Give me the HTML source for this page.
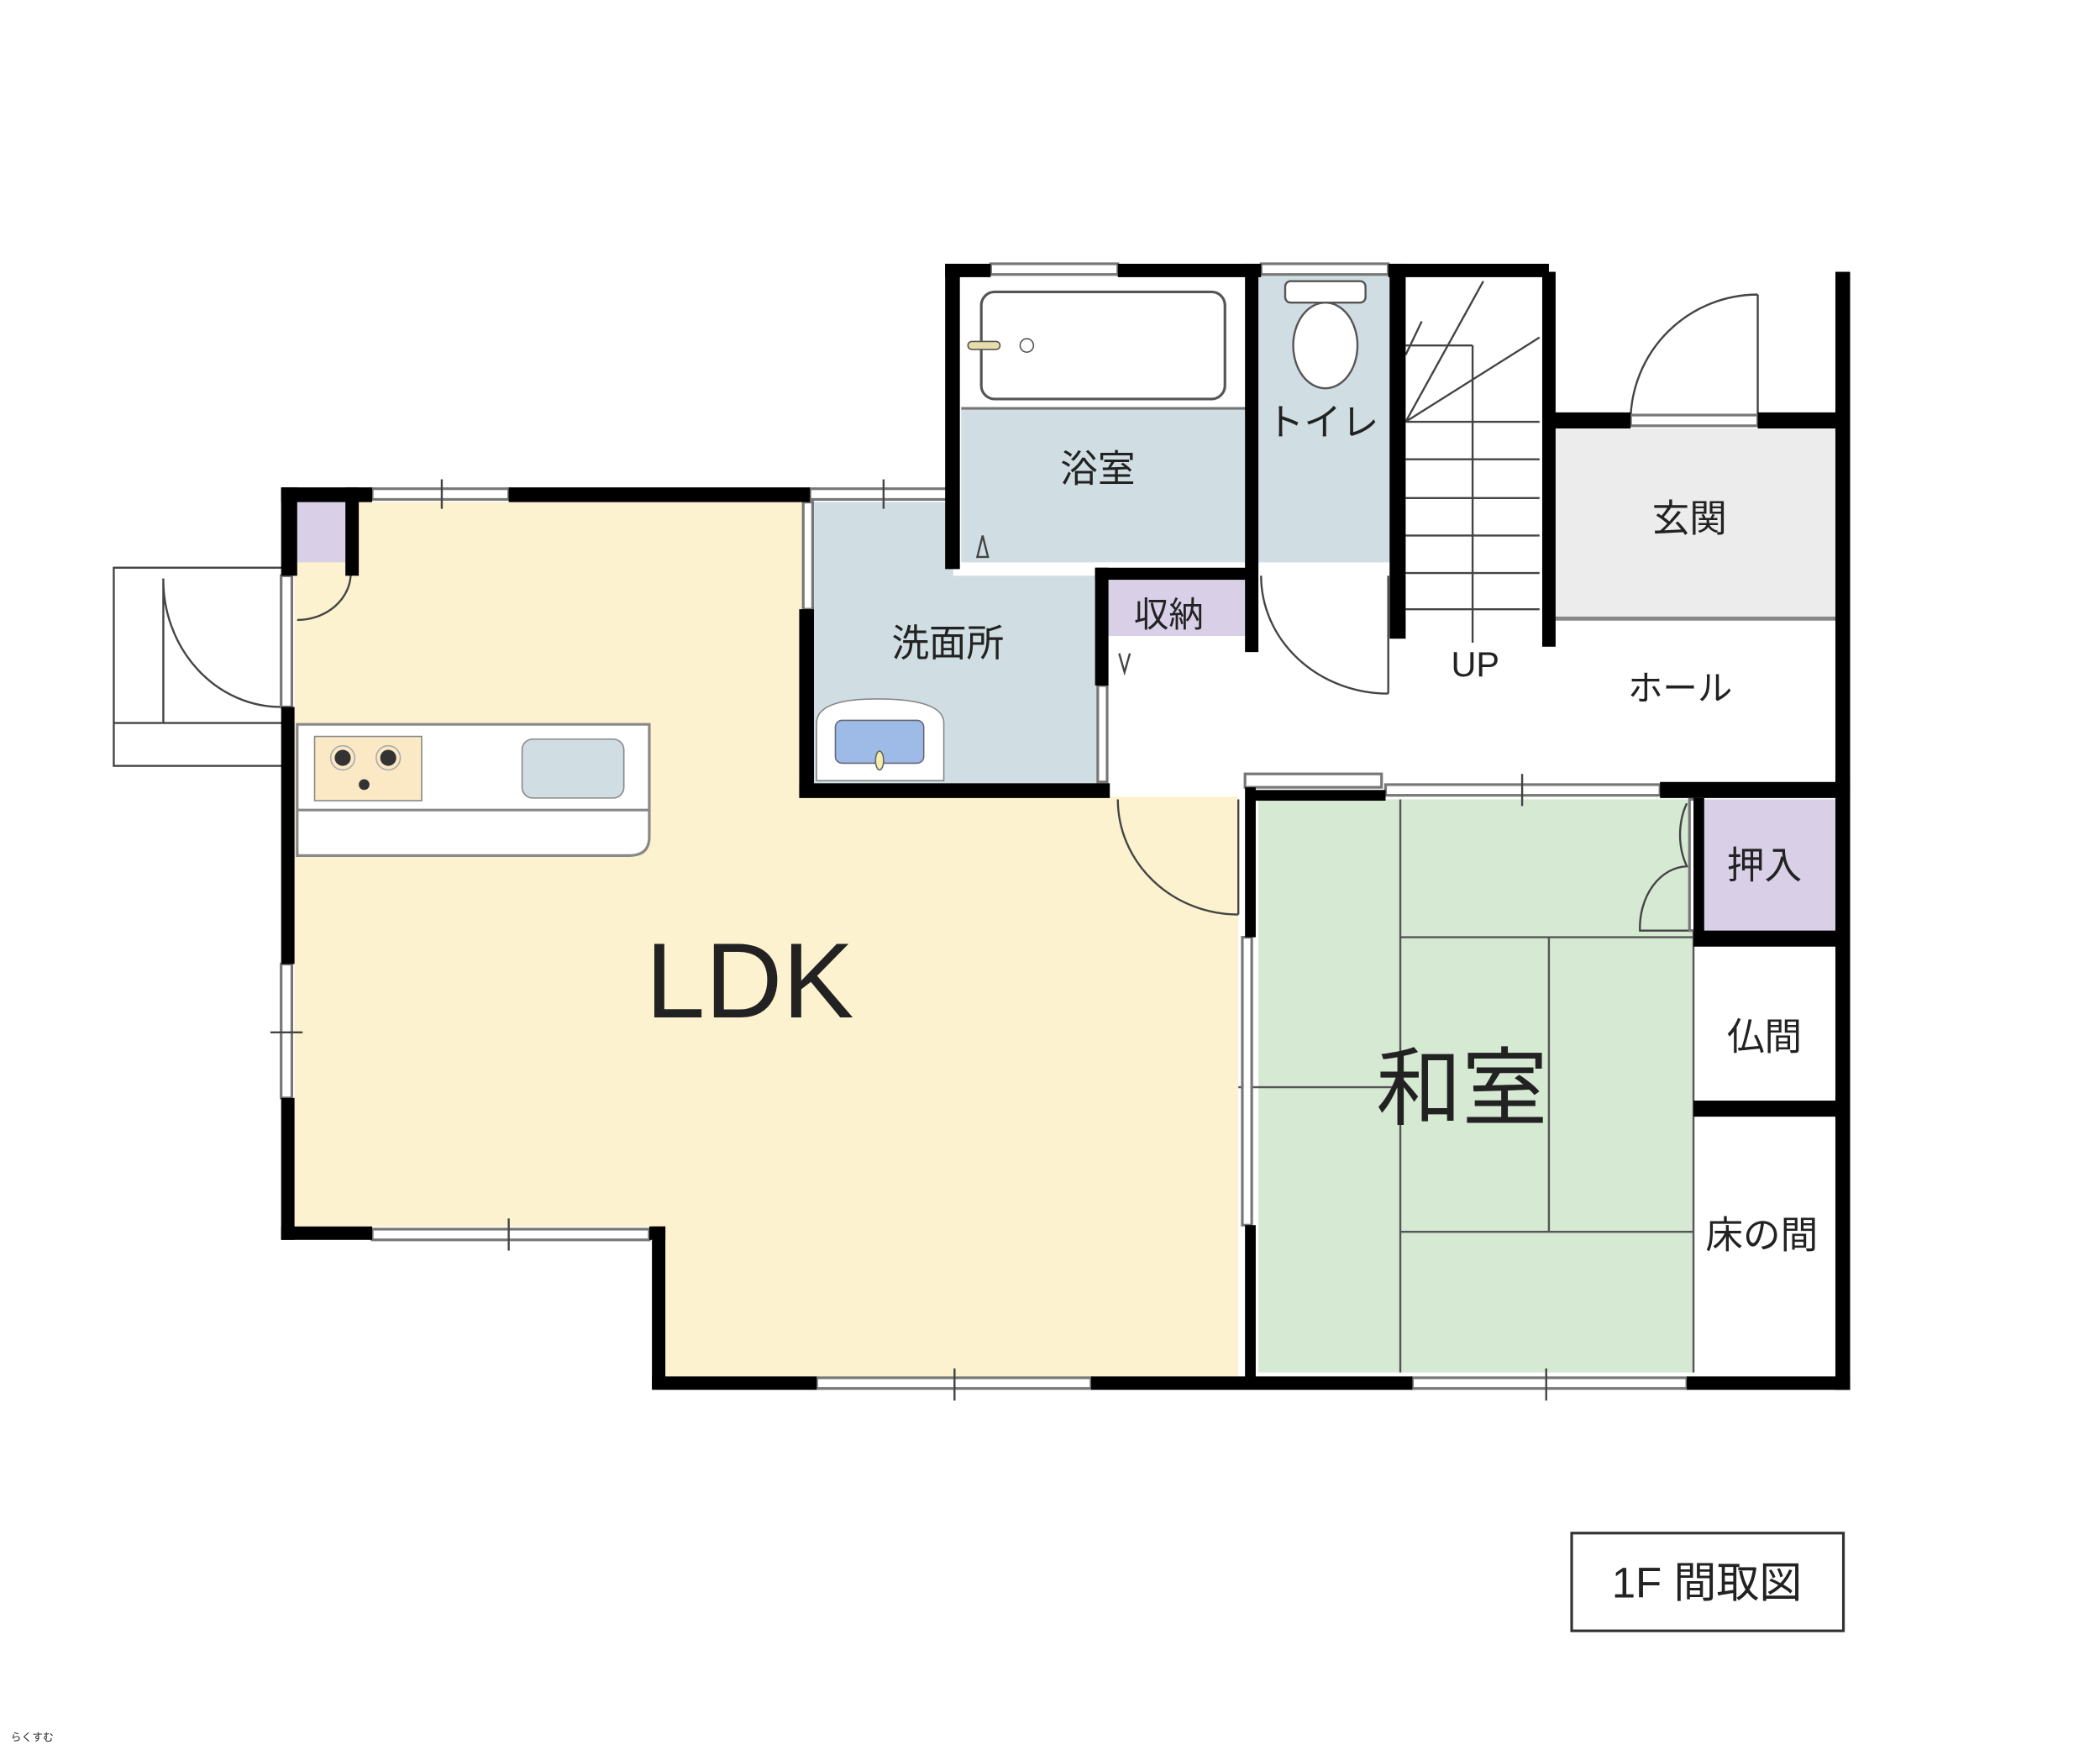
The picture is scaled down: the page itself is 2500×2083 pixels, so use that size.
<!DOCTYPE html>
<html><head><meta charset="utf-8"><style>
html,body{margin:0;padding:0;background:#fff}
svg{display:block}
text{font-family:"Liberation Sans","Noto Sans CJK JP",sans-serif;fill:#222}
</style></head><body>
<svg width="2500" height="2083" viewBox="0 0 1568 1307" preserveAspectRatio="xMinYMin meet" xmlns="http://www.w3.org/2000/svg">
<rect width="1568" height="1307" fill="#fff"/>
<!-- fills -->
<polygon points="220,375 605,375 605,595 925,595 925,1028 497,1028 497,916 220,916" fill="#fcf2cf"/>
<polygon points="608,375 712,375 712,430 820,430 820,585 608,585" fill="#d0dde2"/>
<rect x="718" y="305" width="214" height="115" fill="#d0dde2"/>
<rect x="940" y="205" width="100" height="215" fill="#d0dde2"/>
<rect x="940" y="597" width="325" height="428" fill="#d5e9d3"/>
<rect x="1273" y="597" width="99" height="98" fill="#d9d0e8"/>
<rect x="828" y="432" width="102" height="43" fill="#d9d0e8"/>
<rect x="220" y="375" width="42" height="45" fill="#d9d0e8"/>
<rect x="1162" y="320" width="210" height="142" fill="#ececec"/>
<line x1="1162" y1="462" x2="1372" y2="462" stroke="#888" stroke-width="3"/>
<!-- tatami -->
<g stroke="#555" stroke-width="1.5" fill="none">
<line x1="1046" y1="597" x2="1046" y2="1025"/>
<line x1="1046" y1="700" x2="1265" y2="700"/>
<line x1="1157" y1="700" x2="1157" y2="920"/>
<line x1="1046" y1="920" x2="1265" y2="920"/>
<line x1="925" y1="812" x2="1046" y2="812"/>
<line x1="1265" y1="597" x2="1265" y2="1025"/>
</g>
<!-- bathtub -->
<rect x="733" y="218" width="182" height="80" rx="10" fill="#fff" stroke="#555" stroke-width="2"/>
<rect x="723" y="255" width="24" height="6" rx="3" fill="#e8dcaa" stroke="#555"/>
<circle cx="767" cy="258" r="5" fill="#fff" stroke="#555"/>
<line x1="718" y1="305" x2="932" y2="305" stroke="#777" stroke-width="2"/>
<!-- toilet -->
<rect x="960" y="210" width="60" height="16" rx="4" fill="#fff" stroke="#555" stroke-width="1.5"/>
<ellipse cx="990" cy="258" rx="24" ry="32" fill="#fff" stroke="#555" stroke-width="1.5"/>
<!-- kitchen -->
<path d="M222,541 L485,541 L485,625 Q485,639 470,639 L222,639 Z" fill="#fff" stroke="#888" stroke-width="2"/>
<line x1="222" y1="605" x2="485" y2="605" stroke="#888" stroke-width="2"/>
<rect x="235" y="550" width="80" height="48" fill="#fbe9c5" stroke="#888"/>
<circle cx="256" cy="566" r="9" fill="none" stroke="#aaa"/><circle cx="290" cy="566" r="9" fill="none" stroke="#aaa"/>
<circle cx="256" cy="566" r="6" fill="#333"/><circle cx="290" cy="566" r="6" fill="#333"/><circle cx="272" cy="586" r="4" fill="#333"/>
<rect x="390" y="552" width="76" height="44" rx="8" fill="#d0dde2" stroke="#888"/>
<!-- washbasin -->
<path d="M610,583 L610,540 Q610,522 655,522 Q705,522 705,540 L705,583 Z" fill="#fff" stroke="#888"/>
<rect x="624" y="538" width="66" height="32" rx="5" fill="#9dbbe6" stroke="#667"/>
<ellipse cx="657" cy="568" rx="3" ry="7" fill="#f5ecb0" stroke="#666"/>
<!-- stairs -->
<g stroke="#444" stroke-width="1.5" fill="none">
<line x1="1050" y1="315" x2="1150" y2="315"/>
<line x1="1050" y1="343" x2="1150" y2="343"/>
<line x1="1050" y1="372" x2="1150" y2="372"/>
<line x1="1050" y1="400" x2="1150" y2="400"/>
<line x1="1050" y1="428" x2="1150" y2="428"/>
<line x1="1050" y1="455" x2="1150" y2="455"/>
<line x1="1100" y1="258" x2="1100" y2="480"/>
<line x1="1050" y1="258" x2="1100" y2="258"/>
<line x1="1050" y1="315" x2="1108" y2="210"/>
<line x1="1050" y1="315" x2="1150" y2="252"/>
<line x1="1050" y1="265" x2="1062" y2="240"/>
</g>
<!-- doors -->
<g stroke="#444" stroke-width="1.5" fill="none">
<path d="M1313,220 L1313,314 M1313,220 A95,95 0 0 0 1218,314"/>
<path d="M1037,430 L1037,518 M942,430 A95,88 0 0 0 1037,518"/>
<path d="M925,597 L925,683 M835,597 A90,86 0 0 0 925,683"/>
<path d="M262,428 A40,35 0 0 1 222,463"/>
<path d="M122,432 L122,540 M122,432 A88,95 0 0 0 210,528"/>
<path d="M1260,600 A36,46 0 0 0 1260,647 A36,46 0 0 0 1225,695 L1262,695"/>
<rect x="85" y="424" width="130" height="148"/>
<line x1="85" y1="540" x2="215" y2="540"/>
<path d="M730,416 L734,400 L738,416 Z"/>
<path d="M836,488 L840,502 L844,488"/>
</g>
<!-- windows -->
<g fill="#fff" stroke="#777" stroke-width="2">
<rect x="278" y="365" width="102" height="8"/>
<rect x="605" y="365" width="107" height="8"/>
<rect x="740" y="197" width="95" height="8"/>
<rect x="942" y="197" width="95" height="8"/>
<rect x="278" y="918" width="207" height="8"/>
<rect x="610" y="1029" width="205" height="8"/>
<rect x="1055" y="1029" width="205" height="8"/>
<rect x="1035" y="586" width="205" height="8"/>
<rect x="930" y="578" width="102" height="10"/>
<rect x="210" y="720" width="8" height="100"/>
<rect x="928" y="700" width="7" height="215"/>
<rect x="600" y="375" width="7" height="80"/>
<rect x="820" y="512" width="7" height="72"/>
<rect x="210" y="430" width="8" height="98"/>
<rect x="1218" y="310" width="95" height="8"/>
<rect x="1262" y="597" width="7" height="98"/>
</g>
<g stroke="#444" stroke-width="1.5">
<line x1="330" y1="358" x2="330" y2="380"/><line x1="660" y1="358" x2="660" y2="380"/>
<line x1="380" y1="910" x2="380" y2="934"/><line x1="713" y1="1022" x2="713" y2="1046"/>
<line x1="1155" y1="1022" x2="1155" y2="1046"/><line x1="1137" y1="578" x2="1137" y2="602"/>
<line x1="202" y1="771" x2="226" y2="771"/>
</g>
<!-- walls -->
<g fill="#000">
<rect x="210" y="364" width="68" height="11"/>
<rect x="380" y="364" width="225" height="11"/>
<rect x="210" y="364" width="12" height="66"/>
<rect x="258" y="364" width="10" height="66"/>
<rect x="210" y="528" width="10" height="192"/>
<rect x="210" y="820" width="10" height="106"/>
<rect x="210" y="916" width="68" height="10"/>
<rect x="485" y="916" width="12" height="10"/>
<rect x="487" y="916" width="10" height="121"/>
<rect x="487" y="1028" width="123" height="10"/>
<rect x="815" y="1028" width="240" height="10"/>
<rect x="1260" y="1028" width="122" height="10"/>
<rect x="1371" y="203" width="11" height="835"/>
<rect x="706" y="197" width="34" height="10"/>
<rect x="835" y="197" width="107" height="10"/>
<rect x="1037" y="197" width="120" height="10"/>
<rect x="706" y="197" width="11" height="228"/>
<rect x="930" y="197" width="10" height="290"/>
<rect x="1038" y="197" width="12" height="280"/>
<rect x="1152" y="203" width="10" height="280"/>
<rect x="1155" y="308" width="63" height="12"/>
<rect x="1313" y="308" width="64" height="12"/>
<rect x="818" y="424" width="120" height="9"/>
<rect x="818" y="424" width="10" height="88"/>
<rect x="597" y="455" width="11" height="140"/>
<rect x="597" y="585" width="232" height="11"/>
<rect x="930" y="588" width="8" height="112"/>
<rect x="930" y="915" width="8" height="118"/>
<rect x="935" y="590" width="100" height="8"/>
<rect x="1240" y="584" width="142" height="12"/>
<rect x="1265" y="596" width="8" height="104"/>
<rect x="1265" y="695" width="116" height="12"/>
<rect x="1265" y="822" width="116" height="12"/>
</g>
<!-- labels -->
<text x="560" y="760" font-size="80" text-anchor="middle">LDK</text>
<text x="1092" y="835" font-size="64" text-anchor="middle">和室</text>
<text x="820" y="360" font-size="28" text-anchor="middle">浴室</text>
<text x="988" y="325" font-size="28" text-anchor="middle">トイレ</text>
<text x="1262" y="397" font-size="28" text-anchor="middle">玄関</text>
<text x="708" y="490" font-size="28" text-anchor="middle">洗面所</text>
<text x="873" y="468" font-size="26" text-anchor="middle">収納</text>
<text x="1102" y="505" font-size="26" text-anchor="middle">UP</text>
<text x="1255" y="523" font-size="26" text-anchor="middle">ホール</text>
<text x="1318" y="656" font-size="28" text-anchor="middle">押入</text>
<text x="1318" y="784" font-size="28" text-anchor="middle">仏間</text>
<text x="1316" y="932" font-size="28" text-anchor="middle">床の間</text>
<rect x="1174" y="1145" width="203" height="73" fill="#fff" stroke="#333" stroke-width="2"/>
<text x="1275" y="1193" font-size="32" text-anchor="middle">1F 間取図</text>
<text x="8" y="1300" font-size="8">らくすむ</text>
</svg>
</body></html>
